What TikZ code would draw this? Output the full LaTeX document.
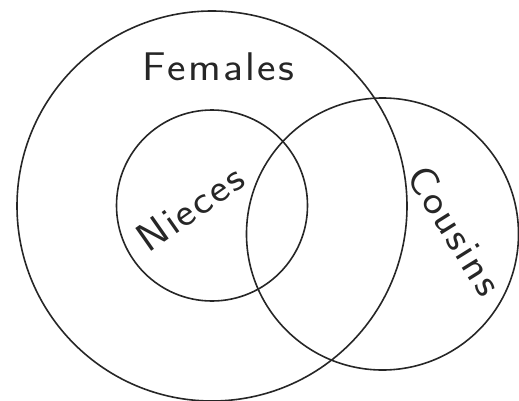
\documentclass[tikz,border=0pt]{standalone}
\newcommand\lk{\kern2pt}
\newcommand\wide[1]{\scalebox{1.1}[1]{#1}}
\begin{document}
\begin{tikzpicture}[x=1pt,y=1pt,
  setcircle/.style={draw=black!85,line width=1.6pt,circle,inner sep=0pt},
  lbl/.style={font=\fontsize{40}{42}\selectfont\sffamily,text=black!85,inner sep=0pt}]
\useasboundingbox (0,0) rectangle (519,400);
\node[setcircle,minimum size=390pt] (females) at (212,194) {};
\node[setcircle,minimum size=191pt] (nieces) at (212,194.5) {};
\node[setcircle,minimum size=272pt] (cousins) at (382.5,166) {};
\node[lbl] (tf) at (218,333) {\wide{F\lk e\lk m\lk a\lk l\lk e\lk s}};
\node[lbl,rotate=35] (tn) at (190,192) {\wide{N\lk i\lk e\lk c\lk e\lk s}};
\node[lbl,rotate=-58] (tc) at (455,170) {\wide{C\lk o\lk u\lk s\lk i\lk n\lk s}};
\end{tikzpicture}
\end{document}
